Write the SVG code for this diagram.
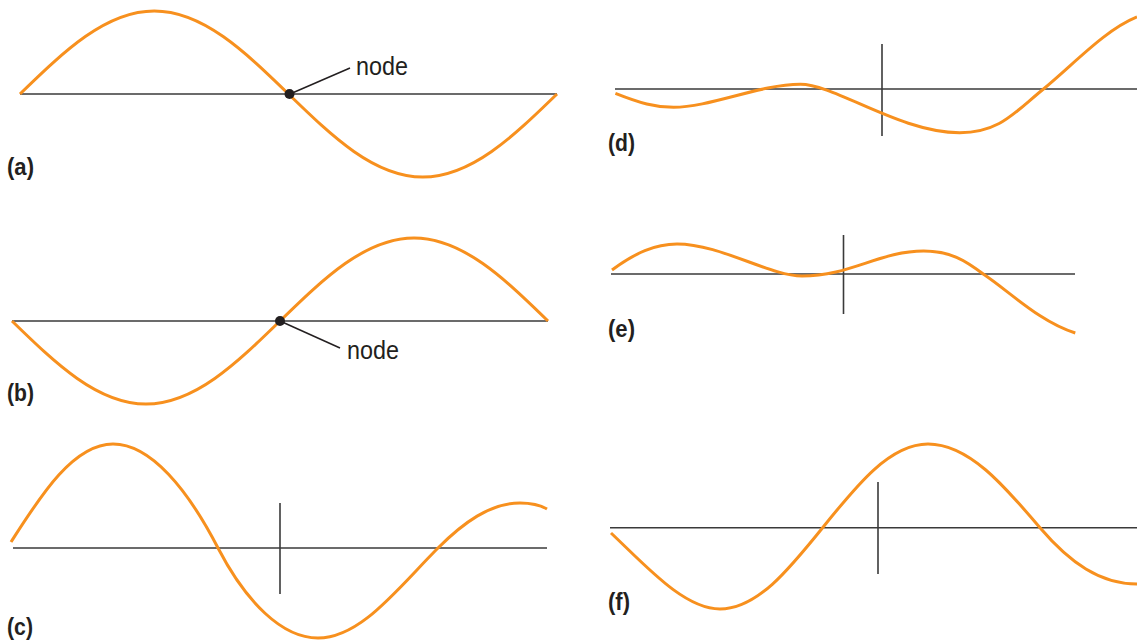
<svg xmlns="http://www.w3.org/2000/svg" width="1137" height="640" viewBox="0 0 1137 640">
<style>
.wave{fill:none;stroke:#f7901e;stroke-width:3;stroke-linecap:butt;stroke-linejoin:round}
.axis{fill:none;stroke:#3a3a3a;stroke-width:1.6}
.lead{fill:none;stroke:#231f20;stroke-width:1.5}
.lbl{font-family:"Liberation Sans",Arial,sans-serif;font-weight:bold;font-size:23px;fill:#231f20}
.txt{font-family:"Liberation Sans",Arial,sans-serif;font-size:25px;fill:#231f20}
</style>
<rect width="1137" height="640" fill="#ffffff"/>
<g id="panel-a">
<line class="axis" x1="20" y1="94" x2="557" y2="94"/>
<path class="wave" d="M20,94 C63.8,51.5 105.7,11 154.25,11 C202.8,11 244.7,51.5 288.5,94 C332.3,136.5 374.2,177 422.75,177 C471.3,177 513.2,136.5 557,94"/>
<line class="lead" x1="290" y1="94" x2="350" y2="68"/>
<circle cx="289.5" cy="94" r="5" fill="#231f20"/>
<text class="txt" x="356" y="75" textLength="52" lengthAdjust="spacingAndGlyphs">node</text>
<text class="lbl" x="7" y="175" textLength="27" lengthAdjust="spacingAndGlyphs">(a)</text>
</g>
<g id="panel-b">
<line class="axis" x1="12" y1="321" x2="548" y2="321"/>
<path class="wave" d="M12,321 C55.7,363.5 97.5,404 146,404 C194.5,404 236.3,363.5 280,321 C323.7,278.5 365.5,238 414,238 C462.5,238 504.3,278.5 548,321"/>
<line class="lead" x1="280" y1="321" x2="340" y2="348"/>
<circle cx="280" cy="321" r="5" fill="#231f20"/>
<text class="txt" x="347" y="359" textLength="52" lengthAdjust="spacingAndGlyphs">node</text>
<text class="lbl" x="7" y="401" textLength="27" lengthAdjust="spacingAndGlyphs">(b)</text>
</g>
<g id="panel-c">
<line class="axis" x1="13" y1="548" x2="547" y2="548"/>
<line class="axis" x1="280" y1="503" x2="280" y2="594"/>
<path class="wave" d="M11,542 C38,500 72,444 113,444 C151,444 188,490 218,548 C246,602 282,638 318,638 C361,638 398,588 438,548 C463,523 490,503 520,503 C532,503 540,505 547,509"/>
<text class="lbl" x="7" y="635" textLength="26" lengthAdjust="spacingAndGlyphs">(c)</text>
</g>
<g id="panel-d">
<line class="axis" x1="615" y1="89" x2="1137" y2="89"/>
<line class="axis" x1="882" y1="44" x2="882" y2="136"/>
<path class="wave" d="M615.4,93.3 C640,103 655,107.3 673.6,107.3 C710,107.3 760,84.3 800.3,84.3 C835,84.3 900,132.7 959.6,132.7 C1000,132.7 1015,112 1043.5,89 C1075,63 1105,30 1137,17"/>
<text class="lbl" x="608" y="151" textLength="27" lengthAdjust="spacingAndGlyphs">(d)</text>
</g>
<g id="panel-e">
<line class="axis" x1="611" y1="274" x2="1075" y2="274"/>
<line class="axis" x1="843.5" y1="235" x2="843.5" y2="314"/>
<path class="wave" d="M612,270 C635,253 655,244 677,244 C720,244 770,276 802,276 C850,276 880,251 923.6,251 C950,251 965,260 983.6,274.3 C1010,292 1040,322 1075.3,333"/>
<text class="lbl" x="608" y="337" textLength="27" lengthAdjust="spacingAndGlyphs">(e)</text>
</g>
<g id="panel-f">
<line class="axis" x1="610" y1="527.7" x2="1137" y2="527.7"/>
<line class="axis" x1="878" y1="482" x2="878" y2="574"/>
<path class="wave" d="M611,533 C646,566 684,609 720,609 C757,609 789,569.5 822.6,527.7 C857,484.8 889.9,444 928,444 C968.5,444 1003.5,484.8 1040,527.7 C1070,562.7 1100,584 1137,584"/>
<text class="lbl" x="608" y="610" textLength="22" lengthAdjust="spacingAndGlyphs">(f)</text>
</g>
</svg>
